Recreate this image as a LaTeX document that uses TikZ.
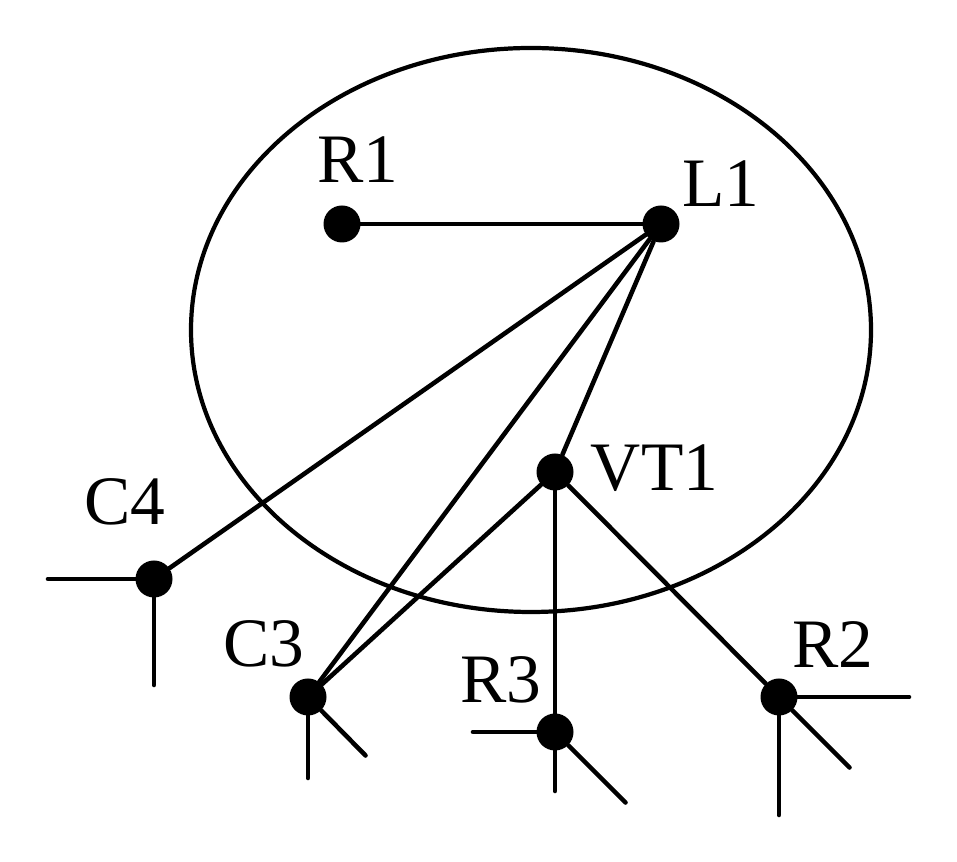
\documentclass[tikz,border=0pt]{standalone}
\usepackage{fontspec}
\setmainfont{Liberation Serif}
\tikzset{
	dot/.style={circle,fill=black,inner sep=0pt,minimum size=0.74cm},
	name label/.style={anchor=base,inner sep=0pt,font=\fontsize{39.5}{39.5}\selectfont},
	wire/.style={line width=2.6pt,line cap=round}
}
\begin{document}
\begin{tikzpicture}
	\useasboundingbox (0,0) rectangle (19.14,17.24);
	\draw[line width=2.4pt] (10.62,10.64) ellipse (6.8 and 5.64);
	\node[dot] (R1) at (6.84,12.76) {};
	\node[dot] (L1) at (13.22,12.76) {};
	\node[dot] (VT1) at (11.10,7.80) {};
	\node[dot] (C4) at (3.08,5.66) {};
	\node[dot] (C3) at (6.16,3.30) {};
	\node[dot] (R3) at (11.10,2.60) {};
	\node[dot] (R2) at (15.58,3.30) {};
	\node[name label] (textR1) at (7.15,13.58) {R1};
	\node[name label] (textL1) at (14.42,13.10) {L1};
	\node[name label] (textVT1) at (13.09,7.42) {VT1};
	\node[name label] (textC4) at (2.5,6.74) {C4};
	\node[name label] (textC3) at (5.28,3.90) {C3};
	\node[name label] (textR3) at (10.02,3.18) {R3};
	\node[name label] (textR2) at (16.65,3.88) {R2};
	\coordinate (C4a) at (0.96,5.66);
	\coordinate (C4b) at (3.08,3.54);
	\coordinate (C3a) at (6.16,1.68);
	\coordinate (C3b) at (7.31,2.13);
	\coordinate (R3a) at (9.46,2.60);
	\coordinate (R3b) at (11.10,1.42);
	\coordinate (R3c) at (12.51,1.19);
	\coordinate (R2a) at (18.18,3.30);
	\coordinate (R2b) at (15.58,0.94);
	\coordinate (R2c) at (16.99,1.89);
	\draw[wire] (R1)--(L1);
	\draw[wire] (L1)--(VT1);
	\draw[wire] (L1)--(C4);
	\draw[wire] (L1)--(C3);
	\draw[wire] (VT1)--(C3);
	\draw[wire] (VT1)--(R3);
	\draw[wire] (VT1)--(R2);
	\draw[wire] (C4)--(C4a);
	\draw[wire] (C4)--(C4b);
	\draw[wire] (C3)--(C3a);
	\draw[wire] (C3)--(C3b);
	\draw[wire] (R3)--(R3a);
	\draw[wire] (R3)--(R3b);
	\draw[wire] (R3)--(R3c);
	\draw[wire] (R2)--(R2a);
	\draw[wire] (R2)--(R2b);
	\draw[wire] (R2)--(R2c);
\end{tikzpicture}
\end{document}
